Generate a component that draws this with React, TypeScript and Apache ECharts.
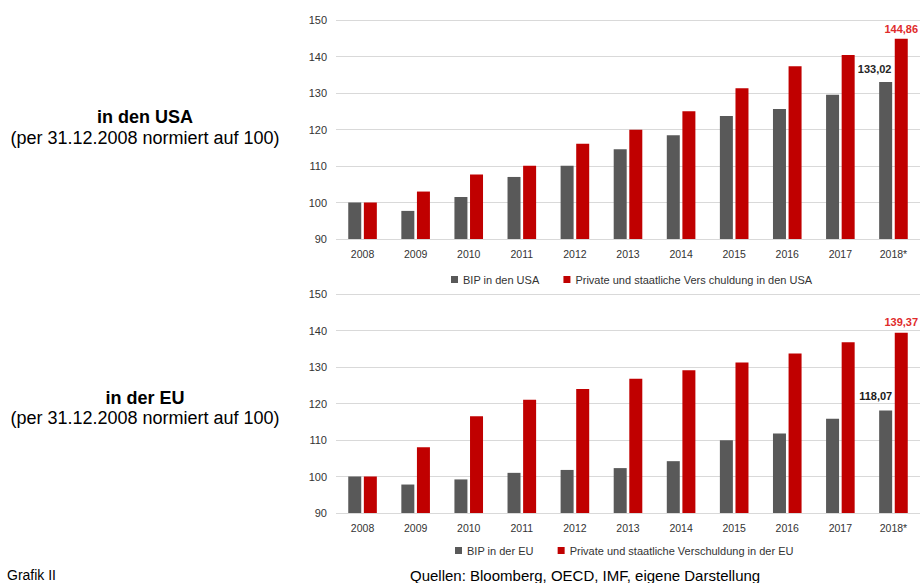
import React, { useEffect, useRef } from "react";
import * as echarts from "echarts";

const years = ["2008", "2009", "2010", "2011", "2012", "2013", "2014", "2015", "2016", "2017", "2018*"];
const usaGdp = [100, 97.7, 101.5, 107.0, 110.1, 114.6, 118.4, 123.7, 125.6, 129.5, 133.02];
const usaDebt = [100, 103.0, 107.7, 110.1, 116.1, 119.9, 125.0, 131.3, 137.3, 140.4, 144.86];
const euGdp = [100, 97.8, 99.2, 101.0, 101.8, 102.3, 104.2, 109.9, 111.8, 115.8, 118.07];
const euDebt = [100, 108.0, 116.5, 121.0, 124.0, 126.8, 129.1, 131.2, 133.7, 136.8, 139.37];
const yTicks = { min: 90, max: 150, interval: 10 };

const usaNames = ["BIP in den USA", "Private und staatliche Vers chuldung in den USA"];
const euNames = ["BIP in der EU", "Private und staatliche Verschuldung in der EU"];

const GREY = "#595959";
const RED = "#c00000";
const FONT = "'Liberation Sans', Arial, sans-serif";

const fmt = (v: number) => v.toFixed(2).replace(".", ",");

function withLastLabel(values: number[], color: string, offset: number[]) {
  return values.map((v, i) =>
    i === values.length - 1
      ? {
          value: v,
          label: {
            show: true,
            position: "top",
            offset,
            formatter: () => fmt(v),
            color,
            fontSize: 11,
            fontWeight: "bold",
            fontFamily: FONT,
          },
        }
      : v
  );
}

export default function App() {
  const ref = useRef<HTMLDivElement>(null);
  useEffect(() => {
    document.body.style.margin = "0";
    const chart = echarts.init(ref.current!, undefined, { renderer: "svg" });
    const xAxisBase = (gridIndex: number) => ({
      type: "category",
      gridIndex,
      data: years,
      axisLine: { show: false },
      axisTick: { show: false },
      axisLabel: { color: "#333", fontSize: 10.5, fontFamily: FONT, margin: 9 },
    });
    const yAxisBase = (gridIndex: number) => ({
      type: "value",
      gridIndex,
      min: yTicks.min,
      max: yTicks.max,
      interval: yTicks.interval,
      axisLine: { show: false },
      axisTick: { show: false },
      axisLabel: { color: "#333", fontSize: 11, fontFamily: FONT, margin: 9 },
      splitLine: { lineStyle: { color: "#d9d9d9", width: 1 } },
    });
    const barBase = { type: "bar", barWidth: 13, barGap: "20%" };
    const legendBase = {
      itemWidth: 7,
      itemHeight: 7,
      itemGap: 24,
      icon: "rect",
      textStyle: { fontSize: 11, color: "#333", fontFamily: FONT },
    };
    const txt = (text: string, x: number, y: number, font: string, align = "center") => ({
      type: "text",
      x,
      y,
      style: { text, fill: "#000", font, textAlign: align, textVerticalAlign: "middle" },
    });
    chart.setOption({
      animation: false,
      textStyle: { fontFamily: FONT },
      grid: [
        { left: 336, width: 588, top: 20, height: 219 },
        { left: 336, width: 588, top: 294, height: 219 },
      ],
      xAxis: [xAxisBase(0), xAxisBase(1)],
      yAxis: [yAxisBase(0), yAxisBase(1)],
      legend: [
        { ...legendBase, data: usaNames, left: 446, top: 269 },
        { ...legendBase, data: euNames, left: 450, top: 540 },
      ],
      series: [
        { ...barBase, name: usaNames[0], xAxisIndex: 0, yAxisIndex: 0, itemStyle: { color: GREY }, data: withLastLabel(usaGdp, "#262626", [-11, -2]) },
        { ...barBase, name: usaNames[1], xAxisIndex: 0, yAxisIndex: 0, itemStyle: { color: RED }, data: withLastLabel(usaDebt, "#e02b2b", [0, 1]) },
        { ...barBase, name: euNames[0], xAxisIndex: 1, yAxisIndex: 1, itemStyle: { color: GREY }, data: withLastLabel(euGdp, "#1a1a1a", [-10, -4]) },
        { ...barBase, name: euNames[1], xAxisIndex: 1, yAxisIndex: 1, itemStyle: { color: RED }, data: withLastLabel(euDebt, "#e02b2b", [0, 0]) },
      ],
      graphic: [
        txt("in den USA", 145, 117, `bold 18px ${FONT}`),
        txt("(per 31.12.2008 normiert auf 100)", 145, 138, `18px ${FONT}`),
        txt("in der EU", 145, 398, `bold 18px ${FONT}`),
        txt("(per 31.12.2008 normiert auf 100)", 145, 418, `18px ${FONT}`),
        txt("Grafik II", 7, 575, `14px ${FONT}`, "left"),
        txt("Quellen: Bloomberg, OECD, IMF, eigene Darstellung", 410, 575, `15px ${FONT}`, "left"),
      ],
    });
    return () => chart.dispose();
  }, []);
  return <div ref={ref} style={{ width: 920, height: 583 }} />;
}
